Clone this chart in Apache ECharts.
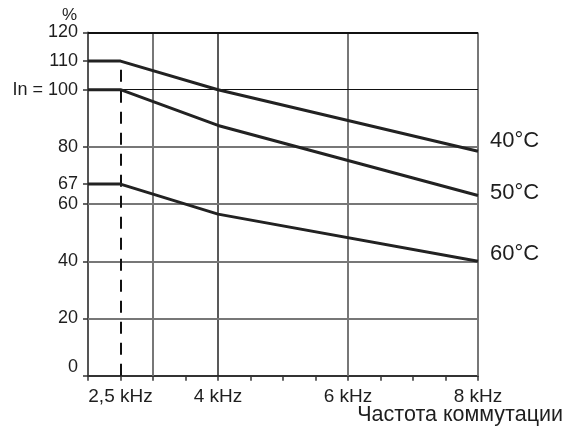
<!DOCTYPE html>
<html>
<head>
<meta charset="utf-8">
<script src="https://cdn.jsdelivr.net/npm/echarts@6/dist/echarts.min.js"></script>
<style>
html,body{margin:0;padding:0;background:#fff;}
#c{width:571px;height:427px;}
</style>
</head>
<body>
<div id="c"></div>
<script>
// ---- data ----
var freqs = [2, 2.5, 4, 8];                 // kHz
var seriesNames = ['40°C', '50°C', '60°C'];
var values40 = [110, 110, 100, 78.5];
var values50 = [100, 100, 87.5, 63];
var values60 = [67, 67, 56.5, 40];
var yTickValues = [0, 20, 40, 60, 67, 80, 100, 110, 120];
var xLabelValues = [2.5, 4, 6, 8];
var xLabelTexts = ['2,5 kHz', '4 kHz', '6 kHz', '8 kHz'];
var xTickValues = [2, 2.5, 3, 3.5, 4, 4.5, 5, 5.5, 6, 6.5, 7, 7.5, 8];
var gridX = [3, 4, 6, 8];
var gridY = [20, 40, 60, 80, 100, 120];
var kneeFreq = 2.5;
var kneeTop = 110;
var xAxisTitle = 'Частота коммутации';
var yAxisTitle = '%';
var xMin = 2, xMax = 8, yMin = 0, yMax = 120;

// ---- styles ----
var FONT = '"Liberation Sans", Arial, sans-serif';
var TXT = '#1e1e1e';
var darkX = {4: true};
var darkY = {100: 1, 120: 2};

function pairs(xs, ys) { return xs.map(function (x, i) { return [x, ys[i]]; }); }

var gridLines = [];
gridX.forEach(function (v) {
  gridLines.push({ xAxis: v, lineStyle: darkX[v] ? { color: '#222', width: 1.5, type: 'solid' } : { color: '#777', width: 2, type: 'solid' } });
});
gridY.forEach(function (v) {
  gridLines.push({ yAxis: v, lineStyle: darkY[v] ? { color: '#111', width: darkY[v], type: 'solid' } : { color: '#777', width: 2, type: 'solid' } });
});

var endOffsets = [[0, -10], [0, -3], [0, -7]];
var vals = [values40, values50, values60];

var series = [{
  type: 'line',
  data: [],
  silent: true,
  markLine: {
    silent: true, symbol: 'none', animation: false,
    label: { show: false },
    data: gridLines.concat([
      [{ coord: [kneeFreq, yMin], lineStyle: { color: '#111', width: 2, type: [12, 9] } },
       { coord: [kneeFreq, kneeTop] }]
    ])
  }
}];
seriesNames.forEach(function (n, i) {
  series.push({
    name: n,
    type: 'line',
    data: pairs(freqs, vals[i]),
    showSymbol: false,
    symbol: 'none',
    lineStyle: { color: '#222', width: 3 },
    z: 5,
    endLabel: {
      show: true,
      formatter: n,
      distance: 12,
      offset: endOffsets[i],
      color: TXT,
      fontFamily: FONT,
      fontSize: 22
    }
  });
});

var chart = echarts.init(document.getElementById('c'), null, { renderer: 'canvas' });
chart.setOption({
  animation: false,
  backgroundColor: '#fff',
  title: {
    text: xAxisTitle,
    right: 8, top: 404, padding: 0,
    textStyle: { fontSize: 21.5, fontWeight: 'normal', color: TXT, fontFamily: FONT }
  },
  grid: { left: 88, right: 93, top: 32.5, bottom: 51.3, containLabel: false, outerBoundsMode: 'none' },
  xAxis: {
    type: 'value', min: xMin, max: xMax,
    axisLine: { show: true, onZero: false, lineStyle: { color: '#333', width: 2 } },
    axisTick: { show: true, customValues: xTickValues, length: 5, lineStyle: { color: '#333', width: 1.5 } },
    axisLabel: {
      customValues: xLabelValues,
      formatter: function (v) { var i = xLabelValues.indexOf(v); return i >= 0 ? xLabelTexts[i] : ''; },
      margin: 12, fontSize: 19, color: TXT, fontFamily: FONT
    },
    splitLine: { show: false }
  },
  yAxis: {
    type: 'value', min: yMin, max: yMax,
    name: yAxisTitle,
    nameLocation: 'end',
    nameGap: 13,
    nameTextStyle: { align: 'right', verticalAlign: 'middle', padding: [0, 11, 0, 0], fontSize: 17, color: TXT, fontFamily: FONT },
    axisLine: { show: true, onZero: false, lineStyle: { color: '#555', width: 2 } },
    axisTick: { show: true, customValues: yTickValues, length: 5, lineStyle: { color: '#333', width: 1.5 } },
    axisLabel: {
      customValues: yTickValues,
      formatter: function (v) {
        if (v === 100) return 'In = 100';
        if (v === 0) return '{z|0}';
        return String(v);
      },
      rich: { z: { fontSize: 18, color: TXT, fontFamily: FONT, padding: [0, 0, 18, 0] } },
      margin: 10, fontSize: 18, color: TXT, fontFamily: FONT
    },
    splitLine: { show: false }
  },
  series: series
});
</script>
</body>
</html>
